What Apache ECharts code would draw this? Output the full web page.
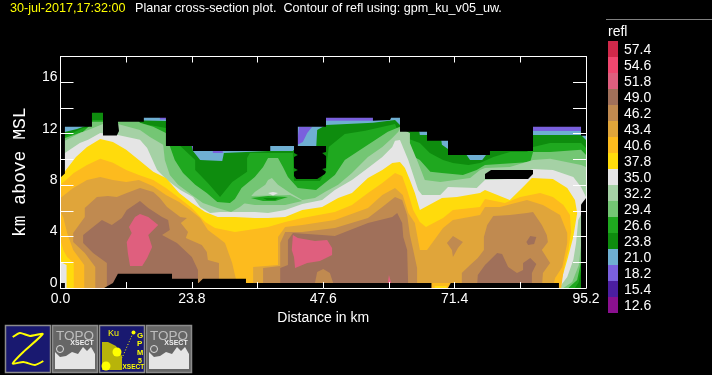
<!DOCTYPE html>
<html><head><meta charset="utf-8">
<script src="https://cdn.jsdelivr.net/npm/echarts@6/dist/echarts.min.js"></script>
<style>html,body{margin:0;background:#000}#c{width:712px;height:375px}</style></head>
<body><div id="c"></div>
<script>
const legendLevels=['57.4','54.6','51.8','49.0','46.2','43.4','40.6','37.8','35.0','32.2','29.4','26.6','23.8','21.0','18.2','15.4','12.6'];
const legendColors=['#d0294a','#f0476f','#df5f7e','#a0705a','#c08a50','#e0a53a','#fdbb1e','#ffdb0c','#e5e5e5','#a5d1a5','#74c674','#1fa81f','#0e8c0e','#6fafd2','#7a60dd','#4b1ea0','#8a108f'];
const C={};legendLevels.forEach((l,i)=>C[l]=legendColors[i]);

// contour boundaries: [distance km, height km]
const top210=[[0,18],[95.2,18]];
const purpleA=[[48.1,13.3],[56.6,13.3],[56.6,13.0],[48.1,13.0]];
const purpleB=[[85.6,12.6],[94.3,12.6],[94.3,12.2],[85.6,12.2]];
const purpleC=[[43.2,12.53],[45.6,12.53],[44.7,12.06],[43.9,11.36],[42.5,11.05],[41.2,11.05],[42.1,11.13],[43,11.75]];
const purpleD=[[23.1,11.05],[24,11.05],[24,10.7],[23.4,10.74]];
const purpleE=[[18,13.3],[19.1,13.3],[19.1,13.1],[18,13.1]];
const purpleF=[[27.6,10.7],[29.4,10.7],[29.4,10.5],[27.6,10.5]];
const top238=[[0,12.06],[3,12.37],[5,12.68],[5.7,14.6],[10.4,14.6],[14,13.15],[15.1,13.03],[19.1,12.99],[19.8,11.51],[23.5,11.51],[24,10.66],[25.3,9.96],[29.3,9.88],[29.6,10.5],[37.6,10.66],[42.1,10.66],[42.3,10.74],[46.3,10.74],[46.5,12.29],[48.1,12.68],[56.6,12.84],[60.6,13.07],[61.5,12.68],[64.8,12.68],[65.1,11.9],[66.6,11.9],[68.9,11.75],[69.1,11.13],[70.4,10.74],[72.9,10.74],[74.2,9.96],[76.4,9.96],[77.8,10.74],[85.6,11.9],[94.3,11.9],[95.2,11.51]];
const top266=[[0,11.67],[1.7,11.98],[4.1,12.45],[5.6,12.53],[5.8,13.07],[7.7,13.07],[9,13.2],[10.4,13.8],[13.7,13.8],[14,12.9],[15.1,12.76],[19.1,12.45],[19.8,12.2],[21.7,11.05],[24.4,9.96],[24.4,9.18],[26.7,8.17],[28.9,7.08],[31.1,8.25],[33.8,9.03],[33.8,10.11],[34.3,10.5],[42.1,10.5],[42.3,8.32],[47,8.32],[48.1,9.18],[48.6,10.97],[51.5,11.98],[55.2,12.22],[60.6,12.76],[61.5,11.83],[65.1,11.28],[66.9,10.5],[69.3,9.96],[71.1,9.72],[73.9,9.57],[76,9.72],[78.4,10.19],[81.4,10.58],[84.5,10.58],[85.6,10.97],[88.7,11.28],[94.3,11.28],[95.2,10.89],[95.2,2.18],[94.3,1.4],[93.9,0.47],[93.2,0]];
const top294=[[0,11.44],[0.8,11.67],[4.1,12.14],[5.4,12.68],[5.7,12.92],[7.7,12.92],[8.6,13.07],[10.4,13.2],[13.7,13.2],[14.4,12.84],[16.8,12.53],[19.1,12.06],[19.8,11.05],[20.7,9.96],[22.2,8.95],[24.4,8.02],[26.5,7.39],[28.4,6.69],[30.7,6.61],[31.6,6.92],[32.8,7.78],[35.2,8.64],[36.7,9.41],[37.6,10.11],[39.4,10.11],[40.3,9.41],[41.2,8.64],[43,7.78],[46.3,7.62],[49.7,8.79],[51.5,9.96],[55.7,11.13],[59.3,12.14],[61.5,12.53],[61.5,11.67],[62.4,10.58],[65.1,9.96],[67,9.03],[69.1,8.95],[72.9,8.79],[75.4,9.18],[76.9,9.57],[85.1,9.8],[85.6,10.58],[88.7,10.58],[94.3,10.74],[95.2,10.35],[95.2,3.74],[94.3,2.02],[93.6,0.62],[92,0]];
const top322=[[0,11.2],[0.8,11.44],[3.5,12.06],[5,12.29],[7.7,12.76],[10.4,12.76],[14.4,12.29],[16.2,11.75],[18.6,11.13],[18.9,9.96],[19.8,8.79],[21.3,8.02],[23.8,7.24],[25.8,6.61],[28.4,6.22],[30.9,5.91],[32.5,6.3],[33.4,6.61],[35.2,7.47],[37.1,8.02],[37.6,8.4],[38.3,8.56],[39.4,8.02],[41.6,7.39],[43.8,6.85],[46.1,7],[47.9,7.47],[50.3,8.02],[52.8,8.95],[55.7,10.19],[58.3,10.97],[60.1,11.67],[61.2,12.14],[61.5,12.45],[63.3,12.06],[63.3,11.28],[64.8,9.72],[66,8.4],[68.8,8.25],[71.5,8.4],[74.2,8.56],[76,9.18],[76.9,9.34],[81.4,9.41],[85.6,9.96],[88.7,10.04],[94.3,9.57],[95.2,9.41],[95.2,6.61],[94.3,3.35],[93.9,1.79],[92.7,0.47],[91.1,0]];
const islandMed=[[32.9,6.61],[34.3,7.16],[41.6,7.24],[43.8,6.77],[40.7,6.46],[35.2,6.46]];
const islandBright=[[34.5,7],[37.6,7.16],[41.2,7.08],[38.9,6.77],[36.7,6.77]];
const islandDark=[[36.7,7],[39.4,7],[38.9,6.85],[37.4,6.85]];
const islandGray=[[37.6,7.39],[38.5,7.47],[39.4,7.39],[38.5,7.2]];
const top350=[[0,9.96],[0.8,10.5],[3.5,11.28],[5,11.52],[7.2,12.06],[10.4,11.9],[14.4,11.52],[15.7,10.89],[17.5,9.18],[19.3,8.4],[21.7,7.62],[24,7.08],[25.3,6.3],[27.1,5.83],[28.9,5.91],[31.6,5.91],[35.2,5.91],[37.6,5.83],[40.7,6.07],[43.8,6.54],[47.4,6.85],[49.7,7.62],[52.8,8.4],[55.7,9.34],[58.3,10.19],[60.1,10.97],[60.6,11.44],[61.5,11.51],[62.1,10.89],[63,9.96],[63.3,9.57],[64.8,7.62],[65.5,7.24],[68.8,7.24],[70.2,7.86],[75.4,7.78],[76.9,8.4],[80.9,8.48],[85.6,9.26],[89.2,9.18],[92.9,8.64],[94.3,7.86],[95.2,7.08],[95.2,6.46],[93.8,5.29],[93.4,3.5],[92.9,2.18],[91.8,0.86],[90.3,0]];
const top378=[[1.1,0],[1.1,1.79],[0,2.02],[0,8.64],[2.8,10.19],[4.8,10.97],[7.2,11.59],[9.5,11.36],[11.9,10.74],[14.2,9.96],[16.8,9.03],[19.1,8.56],[21.5,7.39],[23.8,6.61],[26.2,5.91],[28.5,5.52],[31.6,5.52],[35.2,5.45],[37.6,5.45],[40.7,5.52],[43.8,6.07],[47.4,6.3],[50.3,7],[52.8,7.39],[55.7,8.56],[58.3,9.18],[60.1,9.72],[61.5,9.8],[62.4,9.34],[63.3,8.4],[64.2,7.39],[65.1,6.07],[69.1,7],[71.8,7.08],[76,7.39],[76.9,7.62],[81.4,6.85],[83.8,7.86],[85.4,8.56],[89.2,8.48],[91.8,7.78],[93.2,6.85],[93.6,5.83],[92.9,3.97],[91.8,2.18],[90.9,0.86],[90.5,0]];
const top406=[[2.4,0],[2.4,1.95],[1.2,2.41],[0.5,2.96],[0,3.73],[0,8.01],[2.4,8.95],[4.8,9.57],[7.2,10.04],[9.5,9.73],[11.9,9.18],[14.2,8.79],[16.8,8.4],[19.1,7.78],[21.5,7],[23.8,6.22],[26.2,5.13],[28,4.67],[31.6,4.36],[37.6,4.75],[40.7,5.13],[43.8,5.45],[49.7,5.91],[52.8,6.46],[55.7,7.39],[58.3,8.17],[60.6,8.95],[61.9,8.71],[62.8,7.62],[63.9,6.07],[65.1,5.13],[66.2,4.75],[69.3,5.45],[71.1,6.07],[76,6.3],[76.9,6.92],[80.5,6.61],[83.3,7.08],[86.9,7.39],[89.2,7.08],[91.1,6.46],[92.3,5.68],[92.5,4.36],[92,2.96],[91.2,1.56],[90.7,0]];
const top434=[[4.3,0],[4.3,1.79],[2.3,2.96],[1.2,4.28],[0.5,5.52],[0,5.91],[0,7],[2.3,7.78],[4.8,8.4],[7.2,8.64],[9.5,8.4],[11.9,8.25],[14.2,8.4],[16.8,7.91],[19.1,7.24],[21.5,6.69],[23.5,6.07],[25.3,5.45],[26.7,4.51],[28.4,3.97],[29.8,3.5],[31.1,1.95],[31.6,1.01],[32.2,0],[34.9,0],[34.9,1.63],[39.4,1.79],[39.4,3.97],[40.7,4.75],[43.8,4.9],[49.7,5.29],[55.7,6.22],[58.3,7.24],[60.6,7.78],[62,7.24],[63,5.83],[64.2,5.06],[65.1,2.96],[66.4,2.96],[69.3,4.67],[71.1,5.29],[76,5.68],[76.9,6.3],[79.6,6.3],[84.5,6.85],[87.4,6.46],[90.5,5.68],[91.8,4.28],[91.8,3.5],[90.9,1.63],[89.6,0.78],[89.2,0]];
const tan1=[[6.3,0],[6.3,1.63],[4.4,2.72],[2.3,3.58],[2.3,4.28],[4.4,5.52],[4.4,6.22],[6.6,7.08],[8.6,7.16],[10.2,7.08],[12,7.39],[14.4,7.78],[16.8,7.47],[18,7],[19.3,6.3],[21.7,5.52],[22.9,5.45],[21.8,5.06],[23.1,4.36],[22.7,3.89],[25.6,3.35],[26.5,2.8],[26.7,2.18],[28.7,1.95],[28.7,0]];
const tan2=[[36.7,0],[36.7,1.56],[39.8,1.71],[39.8,3.5],[40.7,4.36],[43.8,4.36],[49.7,4.67],[55.7,5.45],[58.3,6.3],[60.6,7.08],[61.9,6.85],[62.8,5.68],[63.3,4.12],[63.9,2.96],[64.6,1.56],[64.6,0]];
const tan3=[[72.7,0],[72.7,1.17],[74.2,1.79],[75.6,2.33],[76.7,2.96],[76.7,3.97],[77.3,4.9],[78.4,5.6],[81.4,5.68],[84.5,5.83],[85.6,5.91],[87.2,4.9],[88.1,4.12],[88.3,3.58],[87.2,2.96],[88.7,1.95],[87.4,1.17],[87.2,0]];
const tan4=[[70,3.5],[71.1,4.05],[72.9,3.58],[72,3.11],[71.1,2.41],[70.9,2.96]];
const brown1=[[8.4,0],[8.4,1.95],[5.9,2.72],[4.1,3.5],[4.1,4.12],[5.9,4.75],[7.5,5.29],[9.3,4.9],[11.1,5.45],[12,6.07],[14.4,6.77],[15.9,6.22],[18.4,5.52],[19.5,5.29],[19.8,4.51],[18.4,4.12],[21.1,3.5],[23.8,2.41],[24.9,1.4],[24.9,0]];
const brown2=[[39.8,0],[39.8,1.56],[41.2,1.79],[41.2,3.73],[42.1,4.28],[47.4,4.12],[49.7,4.05],[55.7,5.06],[60.1,5.52],[61,5.83],[61.9,5.06],[62.1,3.97],[62.8,2.96],[63,0]];
const brown3=[[75.5,0.39],[75.6,1.01],[76.9,1.79],[79.1,2.72],[80,2.65],[81.1,1.63],[82.7,1.17],[83.8,1.4],[83.8,1.95],[85.1,2.33],[86.2,1.87],[85.4,1.17],[85.4,0.39]];
const brown4=[[84.4,3.58],[85.1,4.05],[86.2,3.97],[85.8,3.42],[84.7,3.35]];
const tan5=[[46.1,0.39],[46.5,1.24],[47.6,1.48],[48.8,1.17],[49.4,0.39]];
const pink1=[[14.4,5.76],[15.9,5.52],[17.7,4.9],[15.9,4.12],[16.6,3.19],[15.7,2.33],[14.8,1.71],[12.6,1.71],[12.2,2.72],[12,3.58],[12.9,4.28],[12.4,4.75],[13.5,5.52]];
const pink2=[[42.1,4.12],[43,3.89],[46.1,3.66],[48.3,3.73],[49.2,3.11],[49.2,2.57],[47,2.1],[44.7,1.95],[42.5,1.56],[42.3,2.41],[41.9,2.96]];
const pink3=[[59.5,1.01],[59.3,0.39],[59.9,0.39]];
const floorAmber=[[67.2,0.39],[70.6,0.39],[70.2,0],[67.2,0]];
const floorYellow=[[67.8,0.15],[70,0.15],[69.9,0],[67.8,0]];
// areas without data
const noDataTop=[[0,18],[0,8.6],[0.8,8.9],[0.8,12.53],[5.7,12.53],[5.7,13.62],[7.7,13.62],[7.7,11.85],[10.2,11.85],[10.6,12.2],[10.4,12.92],[15.1,12.92],[15.1,13.23],[19.1,13.23],[19.1,11.05],[24,11.05],[24,10.66],[38,10.66],[38,11.05],[43,11.05],[43,12.53],[48.1,12.53],[48.1,13.23],[56.6,13.23],[56.6,13],[59.7,13.07],[59.9,13.23],[61.5,13.23],[61.5,12.14],[66.4,12.14],[66.4,11.44],[70.2,11.44],[70.2,10.35],[77.8,10.35],[77.8,10.66],[85.6,10.66],[85.6,12.53],[94.3,12.53],[94.3,11.83],[95.2,11.83],[95.2,18]];
const noDataRight=[[94.3,6.5],[95.2,7],[95.2,0],[94.3,0]];
const noDataHoleB=[[42.3,11.05],[48.1,11.05],[48.1,10.58],[47.4,10.5],[48.1,10.27],[48.1,9.34],[47.4,9.26],[48.1,9.03],[47.9,8.87],[46.5,8.48],[42.7,8.48],[42.3,8.71],[42.3,9.03],[43,9.18],[42.3,9.34],[42.3,10.19],[43,10.35],[42.3,10.5]];
const noDataHoleC=[[76.9,8.48],[76.9,8.87],[78,9.18],[85.6,9.18],[85.6,8.87],[84.7,8.48]];
const noDataFloor=[[0,0],[0,0.39],[0.8,0.39],[0.8,0],[7.9,0],[9.5,0.39],[10.4,1.11],[20.2,1.11],[20.2,0.72],[24.9,0.72],[24.9,0.39],[25,0.39],[25.8,0.72],[33.6,0.72],[33.6,0.39],[67.2,0.39],[67.2,0],[70.2,0],[70.7,0.39],[90.3,0.39],[90.3,0]];

const toFloor=p=>p.concat([[p[p.length-1][0],0],[p[0][0],0]]);
const layers=[
 [toFloor(top210),'21.0'],[purpleA,'18.2'],[purpleB,'18.2'],[purpleC,'18.2'],[purpleD,'18.2'],[purpleE,'18.2'],[purpleF,'18.2'],
 [toFloor(top238),'23.8'],[toFloor(top266),'26.6'],[toFloor(top294),'29.4'],[toFloor(top322),'32.2'],
 [islandMed,'29.4'],[islandBright,'26.6'],[islandDark,'23.8'],[islandGray,'35.0'],
 [toFloor(top350),'35.0'],[toFloor(top378),'37.8'],[toFloor(top406),'40.6'],[toFloor(top434),'43.4'],
 [tan1,'46.2'],[tan2,'46.2'],[tan3,'46.2'],[tan4,'46.2'],[brown1,'49.0'],[brown2,'49.0'],[brown3,'49.0'],[brown4,'49.0'],[tan5,'46.2'],
 [pink1,'51.8'],[pink2,'51.8'],[pink3,'51.8'],[floorAmber,'40.6'],[floorYellow,'37.8'],
 [noDataTop,null],[noDataRight,null],[noDataHoleB,null],[noDataHoleC,null],[noDataFloor,null]
];
const polySeries=layers.map(([pts,lvl])=>({
 type:'custom',xAxisIndex:0,yAxisIndex:0,coordinateSystem:'cartesian2d',silent:true,animation:false,data:pts,encode:{x:0,y:1},
 renderItem:(params,api)=>params.dataIndex===0?{type:'polygon',shape:{points:pts.map(p=>api.coord(p))},style:{fill:lvl?C[lvl]:'#000'}}:null
}));

const W='#fff',F='Liberation Sans';
const line=(a,b,c,w)=>({type:'line',shape:{x1:a[0],y1:a[1],x2:b[0],y2:b[1]},style:{stroke:c,lineWidth:w||1}});
const poly=(pts,fill)=>({type:'polygon',shape:{points:pts},style:{fill}});
const txt=(x,y,t,size,fill,extra)=>({type:'text',x,y,style:Object.assign({text:t,fontSize:size,fontFamily:F,fill,textVerticalAlign:'middle',textBaseline:'middle'},extra||{})});
const button=(x,fill)=>({type:'rect',shape:{x:x+.5,y:325.5,width:45,height:47},style:{fill,stroke:'#8c8c8c',lineWidth:1.5}});
const topo=x=>[button(x,'#666'),
 poly([[x+3,352],[x+8,357],[x+14,356],[x+20,352],[x+26,354],[x+31,347],[x+35,351],[x+39,347],[x+43,354],[x+43,369],[x+3,369]],'#e5e5e5'),
 {type:'text',x:x+23,y:336,style:{text:'TOPO',fontSize:13.5,fontFamily:F,fill:'#bdbdbd',textAlign:'center',textVerticalAlign:'middle',textBaseline:'middle'}},
 {type:'text',x:x+30,y:343.5,style:{text:'XSECT',fontSize:7,fontWeight:'bold',fontFamily:F,fill:'#eee',textAlign:'center',textVerticalAlign:'middle',textBaseline:'middle'}},
 {type:'circle',shape:{cx:x+8,cy:349,r:3.5},style:{fill:'#666',stroke:'#ddd',lineWidth:1}}
];
const Y='#ffff00';
const graphics=[
 line([606,19.5],[712,19.5],'#808080'),
 txt(608,32,'refl',14,W),
 button(5,'#191970'),
 {type:'polyline',shape:{points:[[12.7,337],[20,333],[30,336],[42.7,334],[23.3,352],[12.7,363.5],[23.3,362],[35,365],[43.3,361]],smooth:.2},style:{stroke:Y,lineWidth:2,fill:'none'}},
 ...topo(52),
 button(99,'#191970'),
 poly([[102,342],[108,342],[116,346],[122,356],[122,370],[102,370]],'#b8b40a'),
 {type:'circle',shape:{cx:106,cy:366,r:4.5},style:{fill:Y}},
 {type:'circle',shape:{cx:117,cy:352,r:4.5},style:{fill:Y}},
 {type:'line',shape:{x1:133,y1:333,x2:122,y2:358},style:{stroke:Y,lineWidth:1,lineDash:[1,2]}},
 {type:'circle',shape:{cx:133.5,cy:332.5,r:2},style:{fill:Y}},
 txt(108,334,'Ku',9,Y),
 txt(137,336,'G',8,Y,{fontWeight:'bold'}),txt(137,344,'P',8,Y,{fontWeight:'bold'}),txt(137,352.5,'M',7.5,Y,{fontWeight:'bold'}),txt(138,361,'5',7,Y,{fontWeight:'bold'}),
 txt(122.5,367,'XSECT',6.5,Y,{fontWeight:'bold'}),
 ...topo(146)
];

const option={
 backgroundColor:'#000',animation:false,
 title:[
  {text:'30-jul-2017,17:32:00',left:10,top:2,padding:0,textStyle:{color:'#ffff00',fontSize:12.6,fontWeight:'normal',fontFamily:F}},
  {text:'Planar cross-section plot.  Contour of refl using: gpm_ku_v05_uw.',left:135,top:2,padding:0,textStyle:{color:W,fontSize:12.6,fontWeight:'normal',fontFamily:F}}
 ],
 grid:[{left:60.5,top:56.5,width:525.5,height:231.5,containLabel:false},{left:608,top:41,width:10,height:272}],
 xAxis:[
  {type:'value',gridIndex:0,min:0,max:95.2,interval:11.9,z:10,position:'bottom',name:'Distance in km',nameLocation:'middle',nameGap:22,
   nameTextStyle:{color:W,fontSize:14,fontFamily:F},splitLine:{show:false},axisLine:{show:true,onZero:false,lineStyle:{color:W}},
   axisTick:{inside:true,length:6,lineStyle:{color:W}},
   axisLabel:{color:W,fontSize:14,fontFamily:F,margin:4,showMinLabel:true,showMaxLabel:true,formatter:v=>Math.round(v/11.9)%2===0?v.toFixed(1):''}},
  {type:'value',gridIndex:0,min:0,max:95.2,interval:11.9,z:10,position:'top',splitLine:{show:false},axisLine:{show:true,onZero:false,lineStyle:{color:W}},axisTick:{inside:true,length:6,lineStyle:{color:W}},axisLabel:{show:false}},
  {type:'value',gridIndex:1,min:0,max:1,show:false}
 ],
 yAxis:[
  {type:'value',gridIndex:0,min:0,max:18,interval:2,z:10,position:'left',name:'km above MSL',nameLocation:'middle',nameRotate:90,nameGap:31,
   nameTextStyle:{color:W,fontSize:18,fontFamily:'Liberation Mono'},splitLine:{show:false},axisLine:{show:true,onZero:false,lineStyle:{color:W}},
   axisTick:{inside:true,length:13,lineStyle:{color:W}},
   axisLabel:{color:W,fontSize:14,fontFamily:F,margin:3,verticalAlign:'bottom',lineHeight:10,formatter:v=>v%4===0&&v<18?String(v):''}},
  {type:'value',gridIndex:0,min:0,max:18,interval:2,z:10,position:'right',splitLine:{show:false},axisLine:{show:true,onZero:false,lineStyle:{color:W}},axisTick:{inside:true,length:13,lineStyle:{color:W}},axisLabel:{show:false}},
  {type:'category',gridIndex:1,inverse:true,position:'right',data:legendLevels,axisLine:{show:false},axisTick:{show:false},axisLabel:{interval:0,color:W,fontSize:14,fontFamily:F,margin:6,verticalAlign:'top',lineHeight:2}}
 ],
 series:[...polySeries,
  {type:'bar',xAxisIndex:2,yAxisIndex:2,barWidth:'100%',silent:true,animation:false,data:legendColors.map(c=>({value:1,itemStyle:{color:c}}))}],
 graphic:graphics
};
const chart=echarts.init(document.getElementById('c'),null,{renderer:'canvas'});
chart.setOption(option);
</script></body></html>
